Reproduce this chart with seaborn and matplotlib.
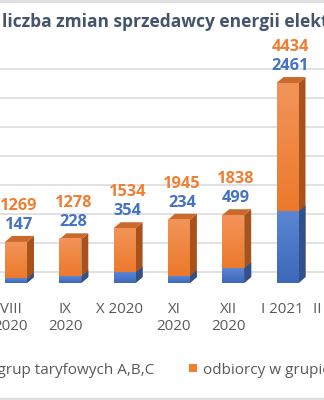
import matplotlib
matplotlib.use("Agg")
import matplotlib.pyplot as plt
import matplotlib.transforms as mtransforms
from matplotlib.colors import to_rgb
from matplotlib.patches import Polygon, Patch
from matplotlib.lines import Line2D
import seaborn as sns
import pandas as pd
import numpy as np

# ---------------- data ----------------
categories = ["VIII\n2020", "IX\n2020", "X 2020", "XI\n2020", "XII\n2020", "I 2021", "II 2021"]
bar_categories = ["VIII\n2020", "IX\n2020", "X 2020", "XI\n2020", "XII\n2020", "I 2021"]
abc_values = [147, 228, 354, 234, 499, 2461]
g_values = [1269, 1278, 1534, 1945, 1838, 4434]
grid_values = [0, 1000, 2000, 3000, 4000, 5000, 6000, 7000]
title_text = "liczba zmian sprzedawcy energii elektrycznej"
legend_labels = ["odbiorcy z grup taryfowych A,B,C", "odbiorcy w grupie taryfowej G"]

# ---------------- style ----------------
BLUE = "#4472C4"
BLUE_LIGHT = "#5B86D2"
BLUE_DARK = "#3D68BA"
BLUE_SIDE = "#2F528F"
ORANGE = "#EF7F33"
ORANGE_LIGHT = "#F29459"
ORANGE_DARK = "#EC792B"
ORANGE_SIDE = "#A8531C"
ORANGE_TOP = "#C9692C"
GRID = "#DEDEDE"
TEXT = "#595959"
TITLE = "#44546A"

sns.set_theme(style="white")
plt.rcParams["font.family"] = ["Open Sans", "DejaVu Sans"]

DPI = 100
FIG_W_PX = 324
AX_W_PX = 400  # plot area continues past the right edge of the picture
fig = plt.figure(figsize=(3.24, 4.0), dpi=DPI)
fig.patch.set_facecolor("white")
ax = fig.add_axes([0, 117 / 400, AX_W_PX / FIG_W_PX, 232 / 400])
ax.set_facecolor("none")

df = pd.DataFrame({"month": bar_categories, "abc": abc_values, "g": g_values})
df["total"] = df["abc"] + df["g"]

BAR_W = 0.405
sns.barplot(data=df, x="month", y="total", order=categories, color=ORANGE,
            width=BAR_W, saturation=1, errorbar=None, ax=ax, zorder=3, linewidth=0)
n_orange = len(ax.patches)
sns.barplot(data=df, x="month", y="abc", order=categories, color=BLUE,
            width=BAR_W, saturation=1, errorbar=None, ax=ax, zorder=4, linewidth=0)
orange_patches = ax.patches[:n_orange]
blue_patches = ax.patches[n_orange:]

# axes cosmetics (ticks first, then limits)
for s in ax.spines.values():
    s.set_visible(False)
ax.set_xlabel("")
ax.set_ylabel("")
ax.set_yticks([])
ax.set_xticks(range(len(categories)))
ax.set_xticklabels(categories, color=TEXT, fontsize=10.8, linespacing=1.1)
ax.tick_params(axis="x", length=0, pad=14)

unit = 54.3
left = -16 / unit
XL = (left, left + AX_W_PX / unit)
ax.set_xlim(*XL)
ax.set_ylim(0, 8000)

# pixel offsets (3D depth) converted to data units
inv = ax.transData.inverted()
p0 = inv.transform((0, 0))
p1 = inv.transform((7, 6))
dx, dy = p1[0] - p0[0], p1[1] - p0[1]

def side_poly(p, color, z):
    x0, w, y0, h = p.get_x(), p.get_width(), p.get_y(), p.get_height()
    pts = [(x0 + w, y0), (x0 + w + dx, y0 + dy), (x0 + w + dx, y0 + h + dy), (x0 + w, y0 + h)]
    ax.add_patch(Polygon(pts, closed=True, facecolor=color, edgecolor="none", zorder=z))

def top_poly(p, color, z):
    x0, w, y0, h = p.get_x(), p.get_width(), p.get_y(), p.get_height()
    pts = [(x0, y0 + h), (x0 + dx, y0 + h + dy), (x0 + w + dx, y0 + h + dy), (x0 + w, y0 + h)]
    ax.add_patch(Polygon(pts, closed=True, facecolor=color, edgecolor="none", zorder=z))

def front_gradient(p, light, dark, z, y_from=None):
    x0, w, y0, h = p.get_x(), p.get_width(), p.get_y(), p.get_height()
    if y_from is not None:
        h = y0 + h - y_from
        y0 = y_from
    t = np.linspace(0, 1, 64).reshape(-1, 1, 1)
    img = np.array(to_rgb(dark)) * (1 - t) + np.array(to_rgb(light)) * t
    img = np.repeat(img, 2, axis=1)
    ax.imshow(img, extent=(x0, x0 + w, y0, y0 + h), origin="lower", aspect="auto",
              interpolation="bilinear", zorder=z)

for p in orange_patches:
    side_poly(p, ORANGE_SIDE, 2.5)
    top_poly(p, ORANGE_TOP, 2.5)
for p in blue_patches:
    side_poly(p, BLUE_SIDE, 2.6)
for po, pb in zip(orange_patches, blue_patches):
    front_gradient(po, ORANGE_LIGHT, ORANGE_DARK, 3.1, y_from=pb.get_height())
    front_gradient(pb, BLUE_LIGHT, BLUE_DARK, 4.1)

# gridlines on the back wall (shifted up), floor edge line (shifted down)
up = mtransforms.ScaledTranslation(0, 11 / DPI, fig.dpi_scale_trans)
down = mtransforms.ScaledTranslation(0, -4 / DPI, fig.dpi_scale_trans)
for v in grid_values:
    ax.add_line(Line2D([0, 1], [v, v], transform=ax.get_yaxis_transform() + up,
                       color=GRID, lw=1.3, zorder=0))
ax.add_line(Line2D([0, 1], [0, 0], transform=ax.get_yaxis_transform() + down,
                   color=GRID, lw=1.3, zorder=0))
ax.set_xlim(*XL)
ax.set_ylim(0, 8000)

# data labels
for p, vb, vo in zip(orange_patches, abc_values, g_values):
    xc = p.get_x() + p.get_width() / 2
    top = p.get_height()
    ax.annotate(f"{vb}", xy=(xc, top), xytext=(3 * 0.72, 17 * 0.72), textcoords="offset points",
                ha="center", va="center", color=BLUE, fontsize=11.8, fontweight="bold", zorder=6)
    ax.annotate(f"{vo}", xy=(xc, top), xytext=(3 * 0.72, 36 * 0.72), textcoords="offset points",
                ha="center", va="center", color=ORANGE, fontsize=11.8, fontweight="bold", zorder=6)

shift = mtransforms.ScaledTranslation(-5 / DPI, 0, fig.dpi_scale_trans)
for lbl in ax.get_xticklabels():
    lbl.set_transform(lbl.get_transform() + shift)

# title
fig.text(2 / 324, 1 - 22 / 400, title_text, ha="left", va="center",
         fontsize=12.5, fontweight="bold", color=TITLE)

# legend
handles = [Patch(facecolor=BLUE, edgecolor="none"), Patch(facecolor=ORANGE, edgecolor="none")]
leg_y = 1 - 370 / 400
leg = fig.legend(handles=handles, labels=legend_labels, ncol=2, frameon=False,
                 loc="center left", bbox_to_anchor=(0, leg_y), fontsize=11,
                 handlelength=0.5, handleheight=0.5, handletextpad=0.4,
                 columnspacing=2.3, labelcolor=TEXT, borderaxespad=0, borderpad=0)
fig.canvas.draw()
r = fig.canvas.get_renderer()
hb = leg.legend_handles[1].get_window_extent(r)
target = 189
shift_px = target - hb.x0
leg.set_bbox_to_anchor((shift_px / 324, leg_y), transform=fig.transFigure)

# chart border lines (top/bottom)
fig.add_artist(Line2D([0, 1], [1 - 1 / 400, 1 - 1 / 400], transform=fig.transFigure, color=GRID, lw=2))
fig.add_artist(Line2D([0, 1], [1.5 / 400, 1.5 / 400], transform=fig.transFigure, color=GRID, lw=2.5))

fig.savefig("out.png", dpi=DPI, facecolor="white")
